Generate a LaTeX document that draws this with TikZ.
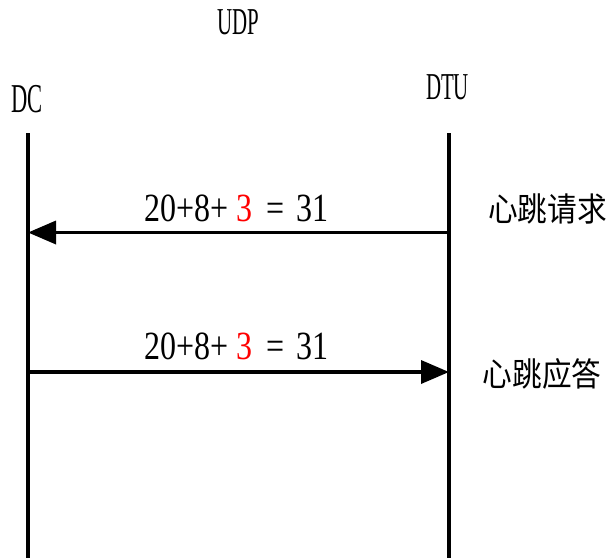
\documentclass[tikz,border=0pt]{standalone}
\usepackage{fontspec}
\setmainfont[FakeStretch=0.8]{Liberation Serif}
\newfontfamily\narrow[FakeStretch=0.55]{Liberation Serif}
\newfontfamily\cjk[FakeStretch=0.9]{Noto Sans CJK SC}
\usetikzlibrary{arrows.meta}
\newcommand{\pkt}{20+8+ \textcolor{red}{3}\hspace{14pt}=\hspace{12pt}31}

\begin{document}
\begin{tikzpicture}[x=1pt,y=-1pt,inner sep=0pt,
  font=\fontsize{40}{44}\selectfont,
  party/.style={font=\narrow\fontsize{38}{40}\selectfont},
  msgname/.style={font=\cjk\fontsize{33}{36}\selectfont},
  msg/.style={line width=3.5pt,-{Triangle[length=28pt,width=23pt]}}]
\useasboundingbox (0,0) rectangle (615,558);
  \node (udp) at (238,22.5) [party] {UDP};
  \node (dc) at (27,99.5) [party,font=\narrow\fontsize{41}{44}\selectfont] {DC};
  \node (dtu) at (447.5,87.5) [party] {DTU};
  \coordinate (dctop) at (28,133);
  \coordinate (dcbot) at (28,558);
  \coordinate (dtutop) at (449,133);
  \coordinate (dtubot) at (449,558);
  \draw [line width=3.5pt] (dctop) -- (dcbot);
  \draw [line width=3.5pt] (dtutop) -- (dtubot);
  \coordinate (reqdtu) at (449,232.5);
  \coordinate (reqdc) at (28,232.5);
  \coordinate (ackdc) at (28,372);
  \coordinate (ackdtu) at (449,372);
  \draw [msg] (reqdtu) -- (reqdc);
  \draw [msg] (ackdc) -- (ackdtu);
  \node (reqlen) at (236.5,208.5) {\pkt};
  \node (acklen) at (236.5,346.5) {\pkt};
  \node (req) at (547.5,209) [msgname] {心跳请求};
  \node (ack) at (542,373.5) [msgname] {心跳应答};
\end{tikzpicture}
\end{document}
